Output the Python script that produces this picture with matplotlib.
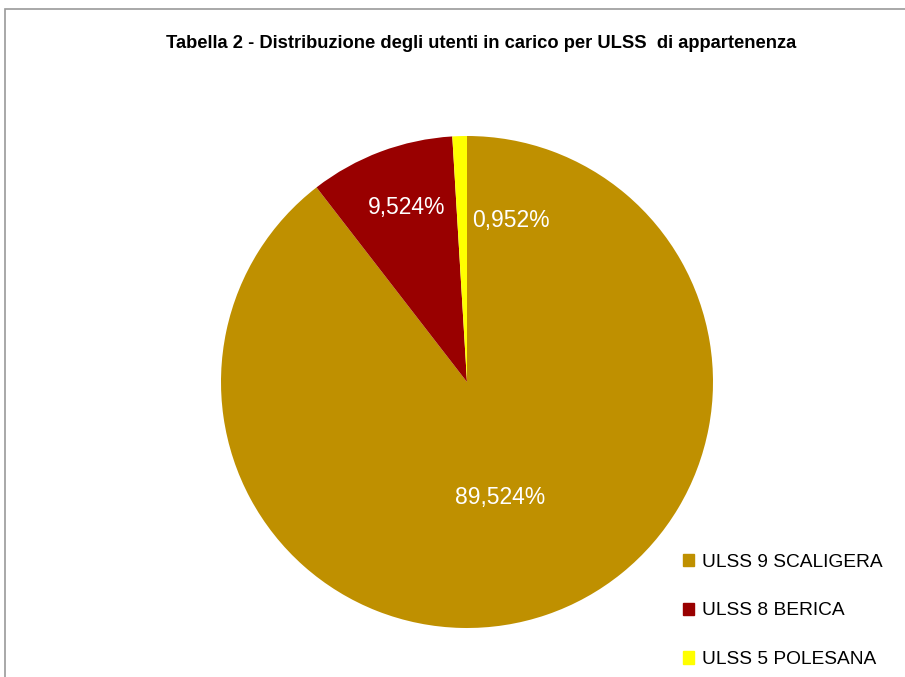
import matplotlib.pyplot as plt
import numpy as np
from matplotlib.patches import Rectangle

plt.rcParams["font.family"] = ["Liberation Sans", "DejaVu Sans"]

categories = ["ULSS 9 SCALIGERA", "ULSS 8 BERICA", "ULSS 5 POLESANA"]
shares = [89.524, 9.524, 0.952]
colors = ["#BF9000", "#990000", "#FFFF00"]
label_text = ["89,524%", "9,524%", "0,952%"]

W, H = 905, 677
fig = plt.figure(figsize=(W / 100, H / 100), dpi=100)

# chart frame (cropped on right/bottom)
fig.patches.append(Rectangle((5 / W, -0.1), 1.2, 1 - 9 / H + 0.1, transform=fig.transFigure,
                             fill=False, edgecolor="#9a9a9a", linewidth=1.2))

fig.text(481 / W, 1 - 43 / H, "Tabella 2 - Distribuzione degli utenti in carico per ULSS  di appartenenza",
         ha="center", va="center", fontsize=13.2, fontweight="bold")

cx, cy, r = 467, 382, 246
ax = fig.add_axes([(cx - r) / W, (H - cy - r) / H, 2 * r / W, 2 * r / H])
wedges, _ = ax.pie(shares, colors=colors, startangle=90, counterclock=False, radius=1,
                   wedgeprops={"linewidth": 0})
ax.set_xlim(-1, 1)
ax.set_ylim(-1, 1)
ax.set_aspect("equal")
ax.axis("off")

# label placement: (distance, angle offset in degrees from wedge middle)
placement = [(0.49, -3.0), (0.75, -1.5), (0.68, -17.0)]
for wedge, text, (dist, dangle) in zip(wedges, label_text, placement):
    mid = np.deg2rad((wedge.theta1 + wedge.theta2) / 2 + dangle)
    ax.text(dist * np.cos(mid), dist * np.sin(mid), text, ha="center", va="center",
            color="white", fontsize=16.5)

handles = [Rectangle((0, 0), 1, 1, color=c) for c in colors]
fig.legend(handles, categories, loc="upper left", bbox_to_anchor=(675 / W, 1 - 546 / H),
           frameon=False, fontsize=13.8, handlelength=0.6, handleheight=0.6,
           handletextpad=0.4, labelspacing=1.66, borderaxespad=0)

fig.savefig("out.png", dpi=100)
